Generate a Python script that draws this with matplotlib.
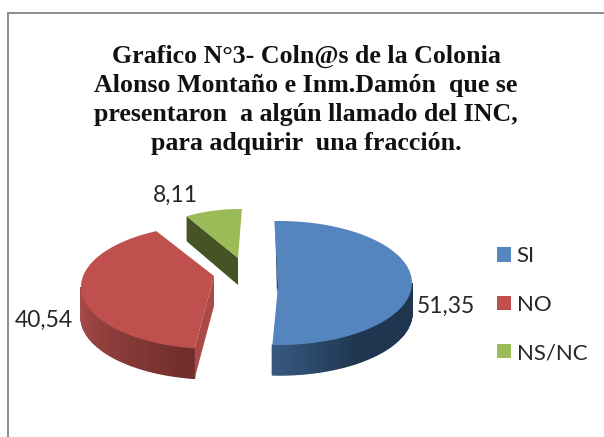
import numpy as np
import matplotlib
matplotlib.use('Agg')
import matplotlib.pyplot as plt
from matplotlib.patches import Polygon, Patch

labels = ['SI', 'NO', 'NS/NC']
values = [51.35, 40.54, 8.11]
value_text = ['51,35', '40,54', '8,11']
title = ('Grafico N°3- Coln@s de la Colonia\n'
         'Alonso Montaño e Inm.Damón  que se\n'
         'presentaron  a algún llamado del INC,\n'
         'para adquirir  una fracción.')

# one entry per slice, in picture pixels
top_colors = ['#5585bf', '#c0504d', '#9bbb59']
rim_left = ['#36587f', '#a84c4a', '#4a5a28']
rim_right = ['#1f3650', '#6f2d2b', '#4a5a28']
centers = [(279, 283), (214, 287), (240, 270)]
apexes = [(278, 287), (214, 276), (238, 258)]
radii = [(133, 62), (133, 62), (113, 61)]
depths = [30, 30, 27]
angle_nudge = [-2, 3.5, 1]
label_pos = [(417, 313), (15, 327), (153, 202)]

fig = plt.figure(figsize=(6.04, 4.37), dpi=100)
ax = fig.add_axes([0, 0, 1, 1])
ax.set_xlim(0, 604)
ax.set_ylim(437, 0)
ax.axis('off')

# chart frame, only top and left show in the crop
ax.plot([8, 604], [12.5, 12.5], color='#8c8c8c', lw=1.4)
ax.plot([8, 8], [12.5, 437], color='#8c8c8c', lw=1.4)


def arc(i, a0, a1, n=80):
    t = np.radians(np.linspace(a0, a1, n))
    cx, cy = centers[i]
    rx, ry = radii[i]
    return cx + rx * np.sin(t), cy - ry * np.cos(t)


def mix(c0, c1, f):
    c0 = np.array(matplotlib.colors.to_rgb(c0))
    c1 = np.array(matplotlib.colors.to_rgb(c1))
    return c0 + (c1 - c0) * f


start = 0
spans = []
for i, v in enumerate(values):
    sweep = v / sum(values) * 360
    spans.append((start + angle_nudge[i], start + sweep + angle_nudge[i]))
    start += sweep

# blue: thin dark sliver and rounded rim
xs, ys = arc(0, 90, spans[0][1], 70)
for k in range(len(xs) - 1):
    col = mix(rim_right[0], rim_left[0], max(0, k - 40) / 28)
    ax.add_patch(Polygon([(xs[k], ys[k]), (xs[k + 1], ys[k + 1]),
                          (xs[k + 1], ys[k + 1] + depths[0]), (xs[k], ys[k] + depths[0])],
                         fc=col, ec=col, lw=1.0))
x0, y0 = arc(0, spans[0][0], spans[0][0], 1)
ax.add_patch(Polygon([(x0[0] + 2, y0[0]), apexes[0], (apexes[0][0] - 1, apexes[0][1] + 8), (x0[0] + 1, y0[0] + 8)],
                     fc='#1f3650', ec='none'))

# red rim and cut face
xs, ys = arc(1, spans[1][0], 270, 70)
for k in range(len(xs) - 1):
    col = mix(rim_right[1], rim_left[1], k / (len(xs) - 2))
    ax.add_patch(Polygon([(xs[k], ys[k]), (xs[k + 1], ys[k + 1]),
                          (xs[k + 1], ys[k + 1] + depths[1]), (xs[k], ys[k] + depths[1])],
                         fc=col, ec=col, lw=1.0))
xe, ye = arc(1, spans[1][0], spans[1][0], 1)
ax.add_patch(Polygon([apexes[1], (apexes[1][0], apexes[1][1] + depths[1]),
                      (xe[0], ye[0] + depths[1]), (xe[0], ye[0])], fc='#a94a48', ec='none'))

# green cut face
xe, ye = arc(2, spans[2][0], spans[2][0], 1)
ax.add_patch(Polygon([(xe[0], ye[0]), apexes[2], (apexes[2][0], apexes[2][1] + depths[2]),
                      (xe[0], ye[0] + depths[2] - 2)], fc='#465425', ec='none'))

# top faces
for i in range(3):
    xs, ys = arc(i, spans[i][0], spans[i][1])
    pts = [apexes[i]] + list(zip(xs, ys))
    ax.add_patch(Polygon(pts, fc=top_colors[i], ec='none'))

for i in range(3):
    ax.text(label_pos[i][0], label_pos[i][1], value_text[i], family='Lato', fontsize=16.5,
            color='#262626', va='baseline', ha='left')

ax.text(306, 100, title, family='Liberation Serif', weight='bold', fontsize=18.6,
        ha='center', va='center', linespacing=1.34, color='#111111')

handles = [Patch(fc=c, ec='none') for c in top_colors]
ax.legend(handles, labels, loc='upper left', bbox_to_anchor=(495 / 604, 1 - 244 / 437),
          frameon=False, handlelength=0.62, handleheight=0.62, handletextpad=0.25,
          labelspacing=1.28, borderpad=0.1, borderaxespad=0,
          prop={'family': 'Lato', 'size': 16}, labelcolor='#262626')

fig.savefig('out.png', dpi=100)
